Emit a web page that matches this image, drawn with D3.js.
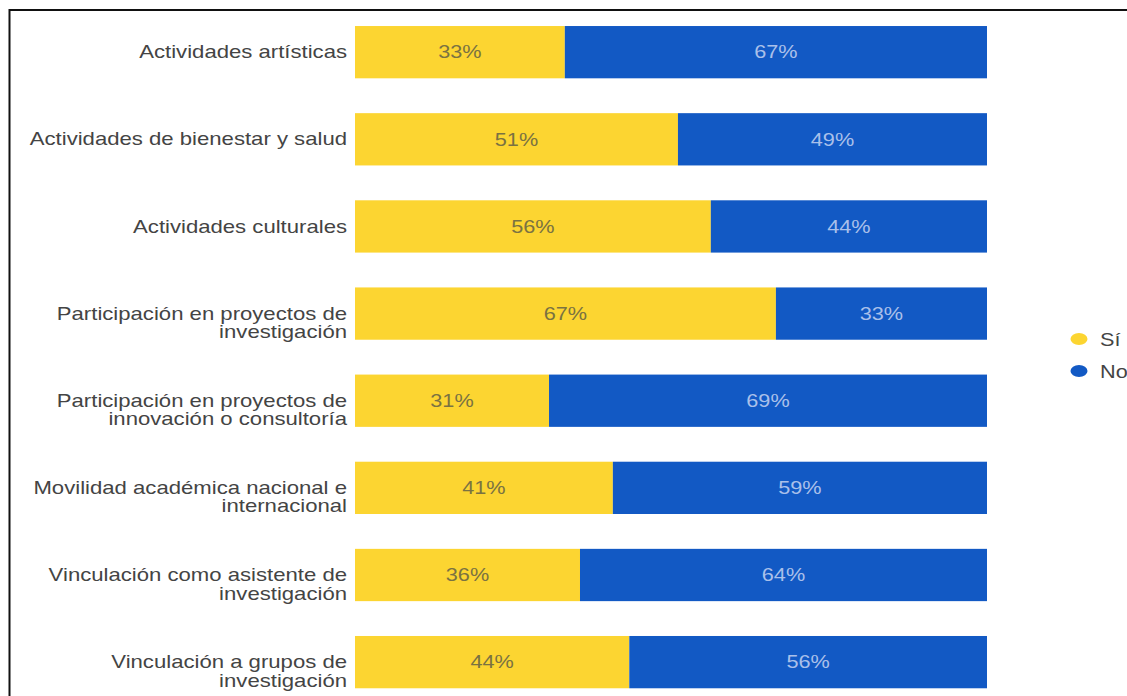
<!DOCTYPE html>
<html><head><meta charset="utf-8">
<script src="https://cdn.jsdelivr.net/npm/d3@7"></script>
<style>body{margin:0;background:#fff;}svg{display:block;}</style>
</head><body>
<script>
const categories = [
  ["Actividades artísticas"],
  ["Actividades de bienestar y salud"],
  ["Actividades culturales"],
  ["Participación en proyectos de", "investigación"],
  ["Participación en proyectos de", "innovación o consultoría"],
  ["Movilidad académica nacional e", "internacional"],
  ["Vinculación como asistente de", "investigación"],
  ["Vinculación a grupos de", "investigación"]
];
const siValues = [33.2, 51.1, 56.3, 66.6, 30.7, 40.8, 35.6, 43.4];
const siLabels = ["33%", "51%", "56%", "67%", "31%", "41%", "36%", "44%"];
const noLabels = ["67%", "49%", "44%", "33%", "69%", "59%", "64%", "56%"];
const seriesNames = ["Sí", "No"];
const colors = ["#FCD531", "#1259C4"];

const W = 1127, H = 696;
const svg = d3.select("body").append("svg").attr("width", W).attr("height", H);

const keys = categories.map((c, i) => i);
const x = d3.scaleLinear().domain([0, 100]).range([355, 987]);
const y = d3.scaleBand().domain(keys).range([8.6, 705.7]).paddingInner(0.4).paddingOuter(0.2);

// frame
svg.append("line").attr("x1", 9).attr("x2", W + 5).attr("y1", 10).attr("y2", 10).attr("stroke", "#111").attr("stroke-width", 2);
svg.append("line").attr("x1", 9.5).attr("x2", 9.5).attr("y1", 9).attr("y2", H + 5).attr("stroke", "#111").attr("stroke-width", 2);

const rows = svg.append("g").selectAll("g").data(keys).join("g");
rows.append("rect").attr("x", x(0)).attr("y", d => y(d)).attr("width", d => x(siValues[d]) - x(0)).attr("height", y.bandwidth()).attr("fill", colors[0]);
rows.append("rect").attr("x", d => x(siValues[d])).attr("y", d => y(d)).attr("width", d => x(100) - x(siValues[d])).attr("height", y.bandwidth()).attr("fill", colors[1]);

const fnt = "'Liberation Sans', Arial, sans-serif";
function stretchedText(g, tx, ty, txt, anchor, fill, size, sx) {
  g.append("g").attr("transform", `translate(${tx},${ty}) scale(${sx},1)`)
    .append("text").attr("x", 0).attr("y", 0).attr("text-anchor", anchor)
    .attr("dominant-baseline", "central").attr("font-family", fnt).attr("font-size", size)
    .attr("fill", fill).text(txt);
}
rows.each(function(d) {
  const g = d3.select(this);
  const cy = y(d) + y.bandwidth() / 2;
  stretchedText(g, (x(0) + x(siValues[d])) / 2, cy, siLabels[d], "middle", "#7a7242", 17.5, 1.24);
  stretchedText(g, (x(siValues[d]) + x(100)) / 2, cy, noLabels[d], "middle", "#aac0ea", 17.5, 1.24);
  categories[d].forEach((line, k) => {
    stretchedText(g, 347, cy + k * 18.5, line, "end", "#444", 17.5, 1.265);
  });
});

// legend
const leg = svg.append("g");
seriesNames.forEach((n, i) => {
  const ly = 339 + i * 32;
  leg.append("ellipse").attr("cx", 1079).attr("cy", ly).attr("rx", 8.5).attr("ry", 6).attr("fill", colors[i]);
  stretchedText(leg, 1100, ly + 1, n, "start", "#444", 17.5, 1.24);
});
</script>
</body></html>
